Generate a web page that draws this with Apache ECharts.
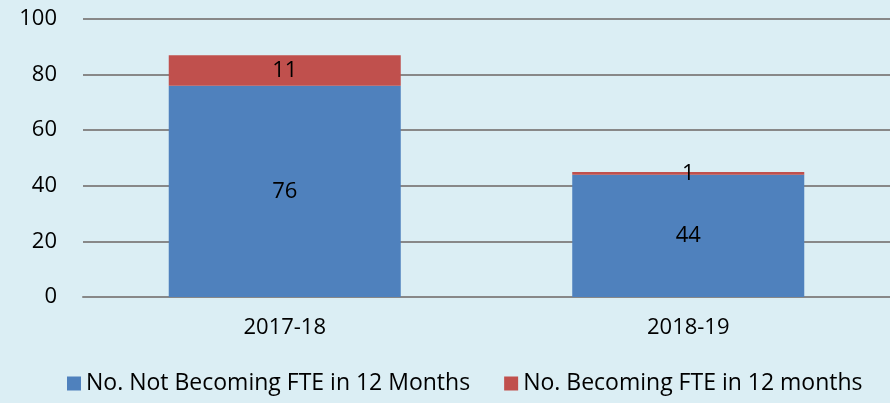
<!DOCTYPE html>
<html>
<head>
<meta charset="utf-8">
<script src="https://cdn.jsdelivr.net/npm/echarts@6/dist/echarts.min.js"></script>
<style>
  html, body { margin: 0; padding: 0; background: #dbeef4; }
  #chart { width: 890px; height: 403px; }
</style>
</head>
<body>
<div id="chart"></div>
<script>
// chart data
const years = ['2017-18', '2018-19'];
const notBecomingFte = [76, 44];
const becomingFte = [11, 1];
const seriesNames = ['No. Not Becoming FTE in 12 Months', 'No. Becoming FTE in 12 months'];

const font = 'Open Sans';

let chart = echarts.init(document.getElementById('chart'));

chart.setOption({
    backgroundColor: '#dbeef4',
    animation: false,
    textStyle: { fontFamily: font },
    grid: { left: 83, right: 0, top: 19, bottom: 106 },
    legend: {
        bottom: 3,
        left: 62,
        itemWidth: 14,
        itemHeight: 14,
        itemGap: 34,
        icon: 'rect',
        textStyle: { fontSize: 23, color: '#000', fontFamily: font },
        data: seriesNames
    },
    xAxis: {
        type: 'category',
        data: years,
        axisLine: { lineStyle: { color: '#888', width: 2 } },
        axisTick: { show: false },
        axisLabel: { fontSize: 22, color: '#000', margin: 20 }
    },
    yAxis: {
        type: 'value',
        min: 0,
        max: 100,
        interval: 20,
        axisLine: { show: false },
        axisTick: { show: false },
        axisLabel: { fontSize: 22, color: '#000', margin: 26 },
        splitLine: { lineStyle: { color: '#888', width: 2 } }
    },
    series: [
        {
            name: seriesNames[0],
            type: 'bar',
            stack: 'fte',
            barWidth: '57.5%',
            data: notBecomingFte,
            itemStyle: { color: '#4f81bd' },
            label: { show: true, position: 'inside', fontSize: 22, color: '#000' }
        },
        {
            name: seriesNames[1],
            type: 'bar',
            stack: 'fte',
            data: becomingFte,
            itemStyle: { color: '#c0504d' },
            label: { show: true, position: 'inside', fontSize: 22, color: '#000' }
        }
    ]
});
</script>
</body>
</html>
